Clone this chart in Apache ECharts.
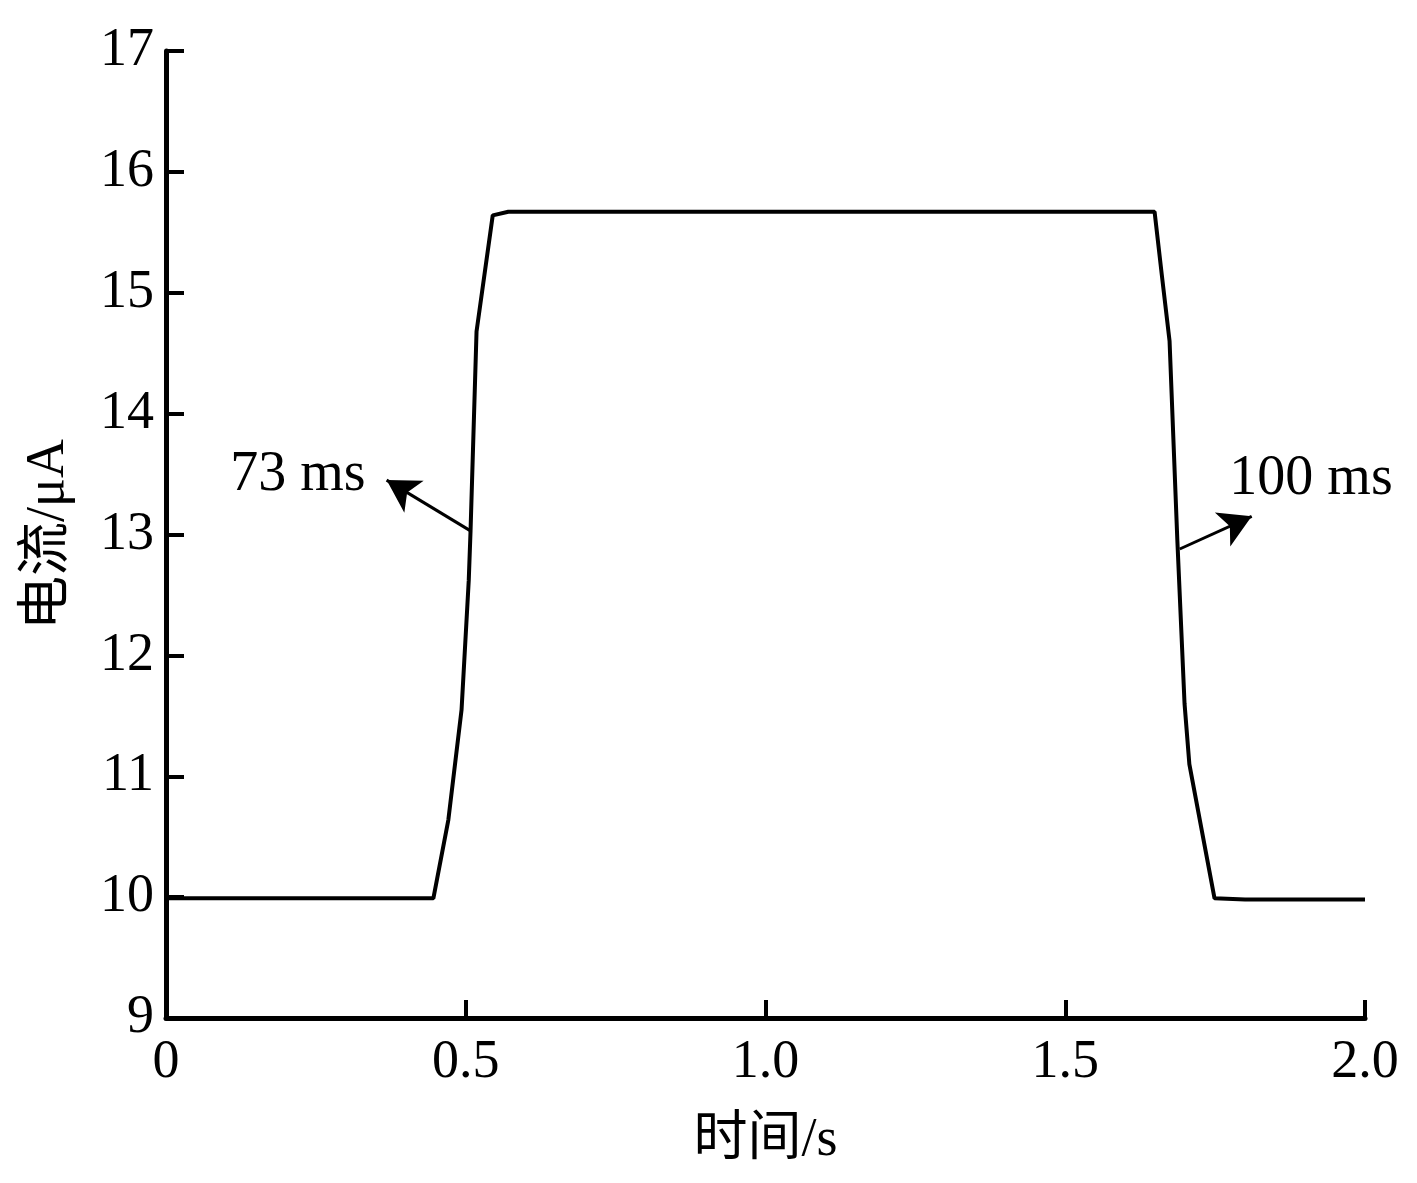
<!DOCTYPE html>
<html>
<head>
<meta charset="utf-8">
<script src="https://cdn.jsdelivr.net/npm/echarts@6/dist/echarts.min.js"></script>
<style>
  html, body { margin: 0; padding: 0; background: #fff; }
  #chart { width: 1417px; height: 1183px; }
</style>
</head>
<body>
<div id="chart"></div>
<script>
// time (s) and current (uA)
const times = [0, 0.446, 0.471, 0.493, 0.505, 0.508, 0.518, 0.527, 0.545, 0.571, 1.0, 1.649, 1.661, 1.674, 1.687, 1.699, 1.707, 1.749, 1.8, 2.0];
const currents = [9.99, 9.99, 10.64, 11.55, 12.62, 13.03, 14.68, 15.0, 15.64, 15.67, 15.67, 15.67, 15.15, 14.6, 12.95, 11.6, 11.1, 9.99, 9.98, 9.98];

const xTicks = [0, 0.5, 1.0, 1.5, 2.0];
const annotations = [
  { text: '73 ms', pos: [0.22, 13.49], from: [0.508, 13.03], to: [0.368, 13.45] },
  { text: '100 ms', pos: [1.91, 13.46], from: [1.691, 12.88], to: [1.811, 13.15] }
];

const font = '"Liberation Serif", "Times New Roman", serif';
const cjk = '"Liberation Serif", "Noto Sans CJK SC", serif';

const chart = echarts.init(document.getElementById('chart'));
chart.setOption({
  animation: false,
  backgroundColor: '#fff',
  grid: { left: 166, right: 52, top: 51, bottom: 165, containLabel: false, outerBoundsMode: 'none' },
  xAxis: {
    type: 'value',
    min: 0, max: 2, interval: 0.5,
    name: '时间/s',
    nameLocation: 'middle',
    nameGap: 96,
    nameTextStyle: { fontFamily: cjk, fontSize: 54, color: '#000' },
    axisLine: { lineStyle: { color: '#000', width: 5 } },
    axisTick: { inside: true, length: 18, lineStyle: { color: '#000', width: 4 } },
    axisLabel: {
      fontFamily: font, fontSize: 54, color: '#000', margin: 18,
      formatter: v => {
        const t = xTicks.find(x => Math.abs(x - v) < 1e-9);
        return t === 0 ? '0' : t.toFixed(1);
      }
    },
    splitLine: { show: false }
  },
  yAxis: {
    type: 'value',
    min: 9, max: 17, interval: 1,
    name: '电流/μA',
    nameLocation: 'middle',
    nameGap: 90,
    nameRotate: 90,
    nameTextStyle: { fontFamily: cjk, fontSize: 54, color: '#000' },
    axisLine: { show: true, lineStyle: { color: '#000', width: 5 } },
    axisTick: { show: true, inside: true, length: 18, lineStyle: { color: '#000', width: 4 } },
    axisLabel: { fontFamily: font, fontSize: 54, color: '#000', margin: 12 },
    splitLine: { show: false }
  },
  series: [{
    type: 'line',
    data: times.map((t, i) => [t, currents[i]]),
    symbol: 'none',
    lineStyle: { color: '#000', width: 4 },
    markLine: {
      silent: true,
      symbol: ['none', 'arrow'],
      symbolSize: [28, 32],
      lineStyle: { color: '#000', width: 3, type: 'solid' },
      label: { show: false },
      data: annotations.map(a => [{ coord: a.from }, { coord: a.to }])
    },
    markPoint: {
      silent: true,
      symbol: 'circle',
      symbolSize: 0,
      label: {
        show: true,
        position: 'inside',
        fontFamily: font,
        fontSize: 56,
        color: '#000',
        formatter: p => p.name
      },
      data: annotations.map(a => ({ name: a.text, coord: a.pos }))
    }
  }]
});
</script>
</body>
</html>
